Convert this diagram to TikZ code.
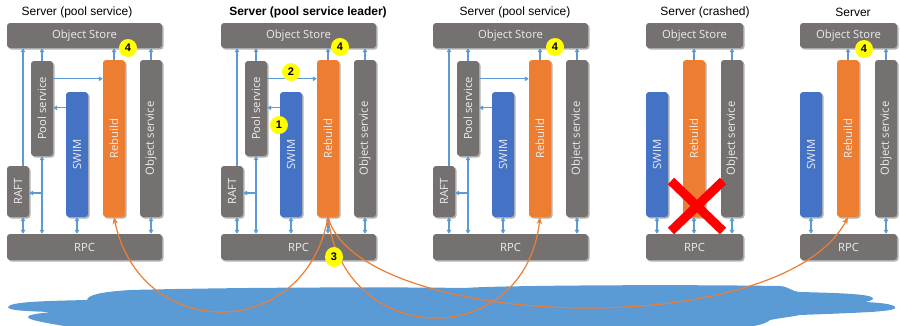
\documentclass[tikz,border=0pt]{standalone}
\usepackage{fontspec}
\setmainfont{Liberation Sans}
\newfontfamily\boxfont{Open Sans}
\usetikzlibrary{arrows.meta,shadows,shapes.geometric}
\definecolor{boxgrey}{HTML}{767171}
\definecolor{swimblue}{HTML}{4472C4}
\definecolor{rebor}{HTML}{ED7D31}
\definecolor{lblue}{HTML}{5B9BD5}
\definecolor{badgey}{HTML}{FFFF00}
\tikzset{
  box/.style={rounded corners=3pt, fill=boxgrey, inner sep=0pt, text=white!93!black,
    font=\boxfont\fontsize{11.3}{13}\selectfont,
    drop shadow={shadow xshift=1.5pt, shadow yshift=-1.5pt, opacity=0.3, fill=black}},
  vbox/.style={box, minimum width=22pt},
  swimc/.style={fill=swimblue},
  rebc/.style={fill=rebor},
  barrow/.style={draw=lblue, line width=1.1pt, -{Triangle[length=4pt,width=4.5pt]}},
  bboth/.style={draw=lblue, line width=1.1pt, {Triangle[length=4pt,width=4.5pt]}-{Triangle[length=4pt,width=4.5pt]}},
  oarrow/.style={draw=rebor, line width=1.2pt, -{Stealth[length=7pt,width=5.5pt]}},
  badge/.style={circle, fill=badgey, inner sep=0pt, minimum size=18pt, font=\bfseries\fontsize{11}{12}\selectfont},
  title/.style={font=\fontsize{12}{14}\selectfont, inner sep=0pt},
  redx/.style={draw=red, line width=9pt},
}
\newcommand\fullsrv[2]{%
  \begin{scope}[shift={(#2,0)}]
    \node[box, minimum width=155pt, minimum height=25pt] (#1store) at (77.5,35.5) {Object Store};
    \node[vbox, minimum height=95pt] (#1pool) at (35,108.5) {\rotatebox{90}{Pool service}};
    \node[vbox, swimc, minimum height=125pt] (#1swim) at (70,154.5) {\rotatebox{90}{SWIM}};
    \node[vbox, rebc, minimum height=157pt] (#1reb) at (107,138.5) {\rotatebox{90}{Rebuild}};
    \node[vbox, minimum height=157pt] (#1obj) at (144,138.5) {\rotatebox{90}{Object service}};
    \node[vbox, minimum height=51pt] (#1raft) at (11,191.5) {\rotatebox{90}{RAFT}};
    \node[box, minimum width=155pt, minimum height=26pt] (#1rpc) at (77.5,247) {RPC};
  \end{scope}
  \draw[barrow] ([xshift=5pt]#1raft.north) -- ([xshift=5pt]#1raft.north |- #1store.south);
  \draw[barrow] (#1pool.north) -- (#1pool.north |- #1store.south);
  \draw[barrow] (#1reb.north) -- (#1reb.north |- #1store.south);
  \draw[barrow] (#1obj.north) -- (#1obj.north |- #1store.south);
  \draw[barrow] ([yshift=-18pt]#1pool.north east) -- ([yshift=-18pt]#1pool.north east -| #1reb.west);
  \draw[barrow] ([yshift=-16pt]#1swim.north west) -- ([yshift=-16pt]#1swim.north west -| #1pool.east);
  \draw[bboth] (#1pool.south) -- (#1pool.south |- #1rpc.north);
  \draw[barrow] ([yshift=-1.5pt]#1raft.east -| #1pool.south) -- ([yshift=-1.5pt]#1raft.east);
  \draw[bboth] ([xshift=5pt]#1raft.south) -- ([xshift=5pt]#1raft.south |- #1rpc.north);
  \draw[bboth] (#1swim.south) -- (#1swim.south |- #1rpc.north);
  \draw[bboth] (#1obj.south) -- (#1obj.south |- #1rpc.north);
}
\newcommand\partsrv[2]{%
  \begin{scope}[shift={(#2,0)}]
    \node[box, minimum width=97pt, minimum height=25pt] (#1store) at (48.5,35.5) {Object Store};
    \node[vbox, swimc, minimum height=125pt] (#1swim) at (11,154.5) {\rotatebox{90}{SWIM}};
    \node[vbox, rebc, minimum height=157pt] (#1reb) at (48,138.5) {\rotatebox{90}{Rebuild}};
    \node[vbox, minimum height=157pt] (#1obj) at (86,138.5) {\rotatebox{90}{Object service}};
    \node[box, minimum width=97pt, minimum height=26pt] (#1rpc) at (48.5,247) {RPC};
  \end{scope}
  \draw[barrow] (#1reb.north) -- (#1reb.north |- #1store.south);
  \draw[barrow] (#1obj.north) -- (#1obj.north |- #1store.south);
  \draw[bboth] (#1swim.south) -- (#1swim.south |- #1rpc.north);
  \draw[bboth] (#1obj.south) -- (#1obj.south |- #1rpc.north);
}
\begin{document}
\begin{tikzpicture}[x=1pt, y=-1pt]
  \useasboundingbox (0,0) rectangle (900,325);
  \begin{scope}
    \clip (0,0) rectangle (900,325);
    % cloud
    \fill[lblue] (8,307) .. controls (10,302) and (40,301) .. (87,300)
      .. controls (88,295) and (100,292) .. (130,290)
      .. controls (250,287) and (400,287) .. (466,288)
      .. controls (480,286) and (650,284) .. (780,286)
      .. controls (790,287) and (790,291) .. (800,292)
      .. controls (840,293) and (870,294) .. (873,298)
      .. controls (874,301) and (866,301) .. (866,302)
      .. controls (885,303) and (897,305) .. (895,308)
      .. controls (894,312) and (850,313) .. (800,315)
      .. controls (790,317) and (780,318) .. (770,320)
      .. controls (760,330) and (700,332) .. (600,332)
      -- (100,332)
      .. controls (60,325) and (28,321) .. (28,317)
      .. controls (28,314) and (45,313) .. (50,312)
      .. controls (20,311) and (8,310) .. (8,307) -- cycle;
  \end{scope}
  % titles
  \node[title] (t1) at (77,12) {Server (pool service)};
  \node[title, font=\bfseries\fontsize{12}{14}\selectfont] (t2) at (308,12) {Server (pool service leader)};
  \node[title] (t3) at (515,12) {Server (pool service)};
  \node[title] (t4) at (705,12) {Server (crashed)};
  \node[title] (t5) at (853,12) {Server};
  % servers
  \fullsrv{s1}{7}
  \fullsrv{s2}{221}
  \fullsrv{s3}{433}
  \partsrv{s4}{646}
  \partsrv{s5}{800}
  \draw[bboth] (s2reb.south) -- (s2reb.south |- s2rpc.north);
  \draw[bboth] (s4reb.south) -- (s4reb.south |- s4rpc.north);
  % red cross
  \draw[redx] (671,181) -- (723,231);
  \draw[redx] (671,231) -- (723,181);
  % orange rebuild connectors
  \draw[oarrow] (s2reb.south) .. controls (305,343) and (140,343) .. (s1reb.south);
  \draw[oarrow] (s2reb.south) .. controls (345,351) and (525,351) .. (s3reb.south);
  \draw[oarrow] (s2reb.south) .. controls (360,330) and (780,345) .. (s5reb.south);
  % badges
  \node[badge] (b1) at (279,125) {1};
  \node[badge] (b2) at (291,72) {2};
  \node[badge, minimum width=18pt, minimum height=20pt, ellipse] (b3) at (334,257) {3};
  \node[badge] (b4a) at (128,48) {4};
  \node[badge] (b4b) at (340,47) {4};
  \node[badge] (b4c) at (555,47) {4};
  \node[badge] (b4d) at (864,49) {4};
\end{tikzpicture}
\end{document}
